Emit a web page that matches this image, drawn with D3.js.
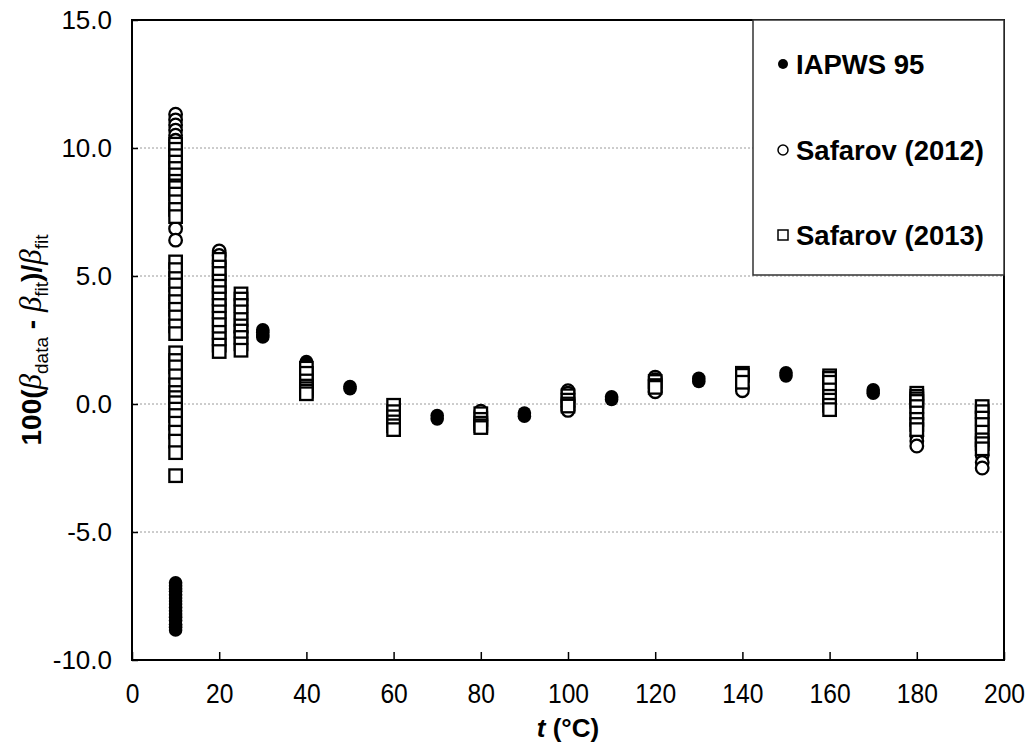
<!DOCTYPE html>
<html>
<head>
<meta charset="utf-8">
<script src="https://cdn.jsdelivr.net/npm/d3@7"></script>
<style>
  html, body { margin: 0; padding: 0; background: #fff; }
  svg { display: block; font-family: "Liberation Sans", Arial, sans-serif; }
</style>
</head>
<body>
<svg id="chart" width="1034" height="750"></svg>
<script>
// Relative deviation of the thermal expansion coefficient from the fit, 100(β_data − β_fit)/β_fit,
// as [t (°C), deviation %] pairs for each data source.
const iapws95 = [
  [10, -6.98], [10, -7.1], [10, -7.22], [10, -7.31], [10, -7.45], [10, -7.58], [10, -7.7], [10, -7.81],
  [10, -7.95], [10, -8.08], [10, -8.2], [10, -8.33], [10, -8.46], [10, -8.6], [10, -8.72], [10, -8.83],
  [30, 2.9], [30, 2.8], [30, 2.7], [30, 2.62],
  [40, 1.66], [40, 1.58],
  [50, 0.68], [50, 0.6],
  [70, -0.45], [70, -0.58],
  [80, -0.86],
  [90, -0.35], [90, -0.48],
  [110, 0.28], [110, 0.18],
  [130, 1.0], [130, 0.88],
  [140, 1.18],
  [150, 1.22], [150, 1.1],
  [170, 0.55], [170, 0.42]
];

const safarov2012 = [
  [10, 11.32], [10, 11.1], [10, 10.9], [10, 10.7], [10, 10.5], [10, 10.3], [10, 9.9], [10, 9.4],
  [10, 8.8], [10, 8.2], [10, 7.6], [10, 6.85], [10, 6.4],
  [20, 5.98], [20, 5.8], [20, 5.5], [20, 5.0], [20, 4.4], [20, 3.9],
  [25, 2.8],
  [80, -0.28],
  [100, 0.52], [100, 0.42], [100, -0.12], [100, -0.25],
  [120, 1.05], [120, 0.95], [120, 0.48],
  [140, 0.65], [140, 0.52],
  [180, -1.25], [180, -1.45], [180, -1.64],
  [195, -2.0], [195, -2.28], [195, -2.5]
];

const safarov2013 = [
  [10, 10.15], [10, 9.95], [10, 9.7], [10, 9.45], [10, 9.2], [10, 8.95], [10, 8.7], [10, 8.52],
  [10, 8.45], [10, 8.2], [10, 7.9], [10, 7.6], [10, 7.32],
  [10, 5.55], [10, 5.25], [10, 4.9], [10, 4.65], [10, 4.3], [10, 4.0], [10, 3.7], [10, 3.4],
  [10, 3.05], [10, 2.75], [10, 2.0], [10, 1.7], [10, 1.45], [10, 1.1], [10, 0.75], [10, 0.45],
  [10, 0.25], [10, 0.05], [10, -0.2], [10, -0.45], [10, -0.75], [10, -1.1], [10, -1.45], [10, -1.9],
  [10, -2.8],
  [20, 5.65], [20, 5.35], [20, 5.1], [20, 4.8], [20, 4.6], [20, 4.35], [20, 4.1], [20, 3.85],
  [20, 3.6], [20, 3.35], [20, 3.1], [20, 2.8], [20, 2.55], [20, 2.3], [20, 2.05],
  [25, 4.3], [25, 4.1], [25, 3.85], [25, 3.6], [25, 3.3], [25, 3.05], [25, 2.85], [25, 2.6],
  [25, 2.35], [25, 2.1],
  [40, 1.4], [40, 1.2], [40, 0.9], [40, 0.7], [40, 0.6], [40, 0.5], [40, 0.4],
  [60, -0.05], [60, -0.3], [60, -0.5], [60, -0.7], [60, -0.85], [60, -1.0],
  [80, -0.38], [80, -0.6], [80, -0.75], [80, -0.85], [80, -0.92],
  [100, 0.32], [100, 0.15], [100, 0.0], [100, -0.08],
  [120, 0.88], [120, 0.72], [120, 0.65],
  [140, 1.2], [140, 1.12], [140, 0.85],
  [160, 1.1], [160, 1.0], [160, 0.85], [160, 0.55], [160, 0.3], [160, 0.15], [160, -0.05], [160, -0.22],
  [180, 0.42], [180, 0.3], [180, 0.2], [180, 0.1], [180, -0.1], [180, -0.35], [180, -0.6], [180, -0.8], [180, -1.0],
  [195, -0.1], [195, -0.3], [195, -0.55], [195, -0.8], [195, -1.1], [195, -1.4], [195, -1.55], [195, -1.75]
];

const xTicks = [0, 20, 40, 60, 80, 100, 120, 140, 160, 180, 200];
const yTicks = [-10, -5, 0, 5, 10, 15];
const yGrid = [-5, 0, 5, 10];
const legendLabels = ["IAPWS 95", "Safarov (2012)", "Safarov (2013)"];

const svg = d3.select("#chart");
const plot = { left: 132, right: 1004, top: 20, bottom: 660 };

const x = d3.scaleLinear().domain([0, 200]).range([plot.left, plot.right]);
const y = d3.scaleLinear().domain([-10, 15]).range([plot.bottom, plot.top]);

const fmt = d3.formatLocale({ decimal: ".", thousands: ",", grouping: [3], currency: ["", ""], minus: "-" }).format(".1f");

// dotted horizontal gridlines
svg.append("g")
  .selectAll("line")
  .data(yGrid)
  .join("line")
  .attr("x1", plot.left).attr("x2", plot.right)
  .attr("y1", d => y(d)).attr("y2", d => y(d))
  .attr("stroke", "#9a9a9a")
  .attr("stroke-width", 1)
  .attr("stroke-dasharray", "2,2");

// axes with inward ticks
const xAxis = svg.append("g")
  .attr("transform", `translate(0,${plot.bottom})`)
  .call(d3.axisBottom(x).tickValues(xTicks).tickSize(-8).tickPadding(0).tickFormat(d3.format("d")));
xAxis.select(".domain").remove();
xAxis.selectAll(".tick line").attr("stroke", "#000").attr("stroke-width", 1.5);
xAxis.selectAll(".tick text")
  .attr("fill", "#000")
  .attr("font-size", 28)
  .attr("font-family", "'Liberation Sans', Arial, sans-serif")
  .attr("dy", null)
  .attr("y", 0)
  .attr("transform", "translate(0,43) scale(0.88,1)");

const yAxis = svg.append("g")
  .attr("transform", `translate(${plot.left},0)`)
  .call(d3.axisLeft(y).tickValues(yTicks).tickSize(-6).tickPadding(20).tickFormat(fmt));
yAxis.select(".domain").remove();
yAxis.selectAll(".tick line").attr("stroke", "#000").attr("stroke-width", 1.5);
yAxis.selectAll(".tick text")
  .attr("fill", "#000")
  .attr("font-size", 26)
  .attr("font-family", "'Liberation Sans', Arial, sans-serif");

// plot frame
svg.append("rect")
  .attr("x", plot.left).attr("y", plot.top)
  .attr("width", plot.right - plot.left).attr("height", plot.bottom - plot.top)
  .attr("fill", "none")
  .attr("stroke", "#000")
  .attr("stroke-width", 2);

// markers
const marks = svg.append("g");
marks.append("g").selectAll("circle")
  .data(iapws95)
  .join("circle")
  .attr("cx", d => x(d[0])).attr("cy", d => y(d[1]))
  .attr("r", 6.8)
  .attr("fill", "#000");

marks.append("g").selectAll("circle")
  .data(safarov2012)
  .join("circle")
  .attr("cx", d => x(d[0])).attr("cy", d => y(d[1]))
  .attr("r", 6.3)
  .attr("fill", "#fff")
  .attr("stroke", "#000")
  .attr("stroke-width", 2.3);

const sq = 12.5;
marks.append("g").selectAll("rect")
  .data(safarov2013)
  .join("rect")
  .attr("x", d => x(d[0]) - sq / 2).attr("y", d => y(d[1]) - sq / 2)
  .attr("width", sq).attr("height", sq)
  .attr("fill", "#fff")
  .attr("stroke", "#000")
  .attr("stroke-width", 2.3);

// legend
const lg = svg.append("g");
lg.append("rect")
  .attr("x", 753).attr("y", plot.top)
  .attr("width", plot.right - 753).attr("height", 255)
  .attr("fill", "#fff")
  .attr("stroke", "#333")
  .attr("stroke-width", 1.5);

const legendY = [64, 150, 235];
const lx = 783;
lg.append("circle").attr("cx", lx).attr("cy", legendY[0]).attr("r", 5).attr("fill", "#000");
lg.append("circle").attr("cx", lx).attr("cy", legendY[1]).attr("r", 5)
  .attr("fill", "#fff").attr("stroke", "#000").attr("stroke-width", 1.5);
lg.append("rect").attr("x", lx - 5).attr("y", legendY[2] - 5).attr("width", 10).attr("height", 10)
  .attr("fill", "#fff").attr("stroke", "#000").attr("stroke-width", 1.5);
lg.selectAll("text")
  .data(legendLabels)
  .join("text")
  .attr("x", 796)
  .attr("y", (d, i) => legendY[i] + 10)
  .attr("font-size", 27.5)
  .attr("font-weight", "bold")
  .attr("fill", "#000")
  .text(d => d);

// axis titles
svg.append("text")
  .attr("x", (plot.left + plot.right) / 2)
  .attr("y", 737)
  .attr("text-anchor", "middle")
  .attr("font-size", 26)
  .attr("font-weight", "bold")
  .call(t => {
    t.append("tspan").attr("font-style", "italic").text("t");
    t.append("tspan").text(" (°C)");
  });

const yTitle = svg.append("text")
  .attr("transform", `translate(41,${(plot.top + plot.bottom) / 2}) rotate(-90)`)
  .attr("text-anchor", "middle")
  .attr("font-size", 28)
  .attr("font-weight", "bold");
const parts = [
  { s: "100(", it: false, sub: false },
  { s: "β", it: true, sub: false },
  { s: "data", it: false, sub: true },
  { s: " - ", it: false, sub: false },
  { s: "β", it: true, sub: false },
  { s: "fit", it: false, sub: true },
  { s: ")/", it: false, sub: false },
  { s: "β", it: true, sub: false },
  { s: "fit", it: false, sub: true }
];
let shifted = false;
parts.forEach(p => {
  const ts = yTitle.append("tspan").text(p.s);
  if (p.it) ts.attr("font-style", "italic").attr("font-weight", "normal").attr("font-family", "'Liberation Serif', serif").attr("font-size", 31);
  if (p.sub) {
    ts.attr("font-size", 19).attr("font-weight", "normal");
    if (!shifted) { ts.attr("dy", 7); shifted = true; }
  } else if (shifted) {
    ts.attr("dy", -7);
    shifted = false;
  }
});
</script>
</body>
</html>
